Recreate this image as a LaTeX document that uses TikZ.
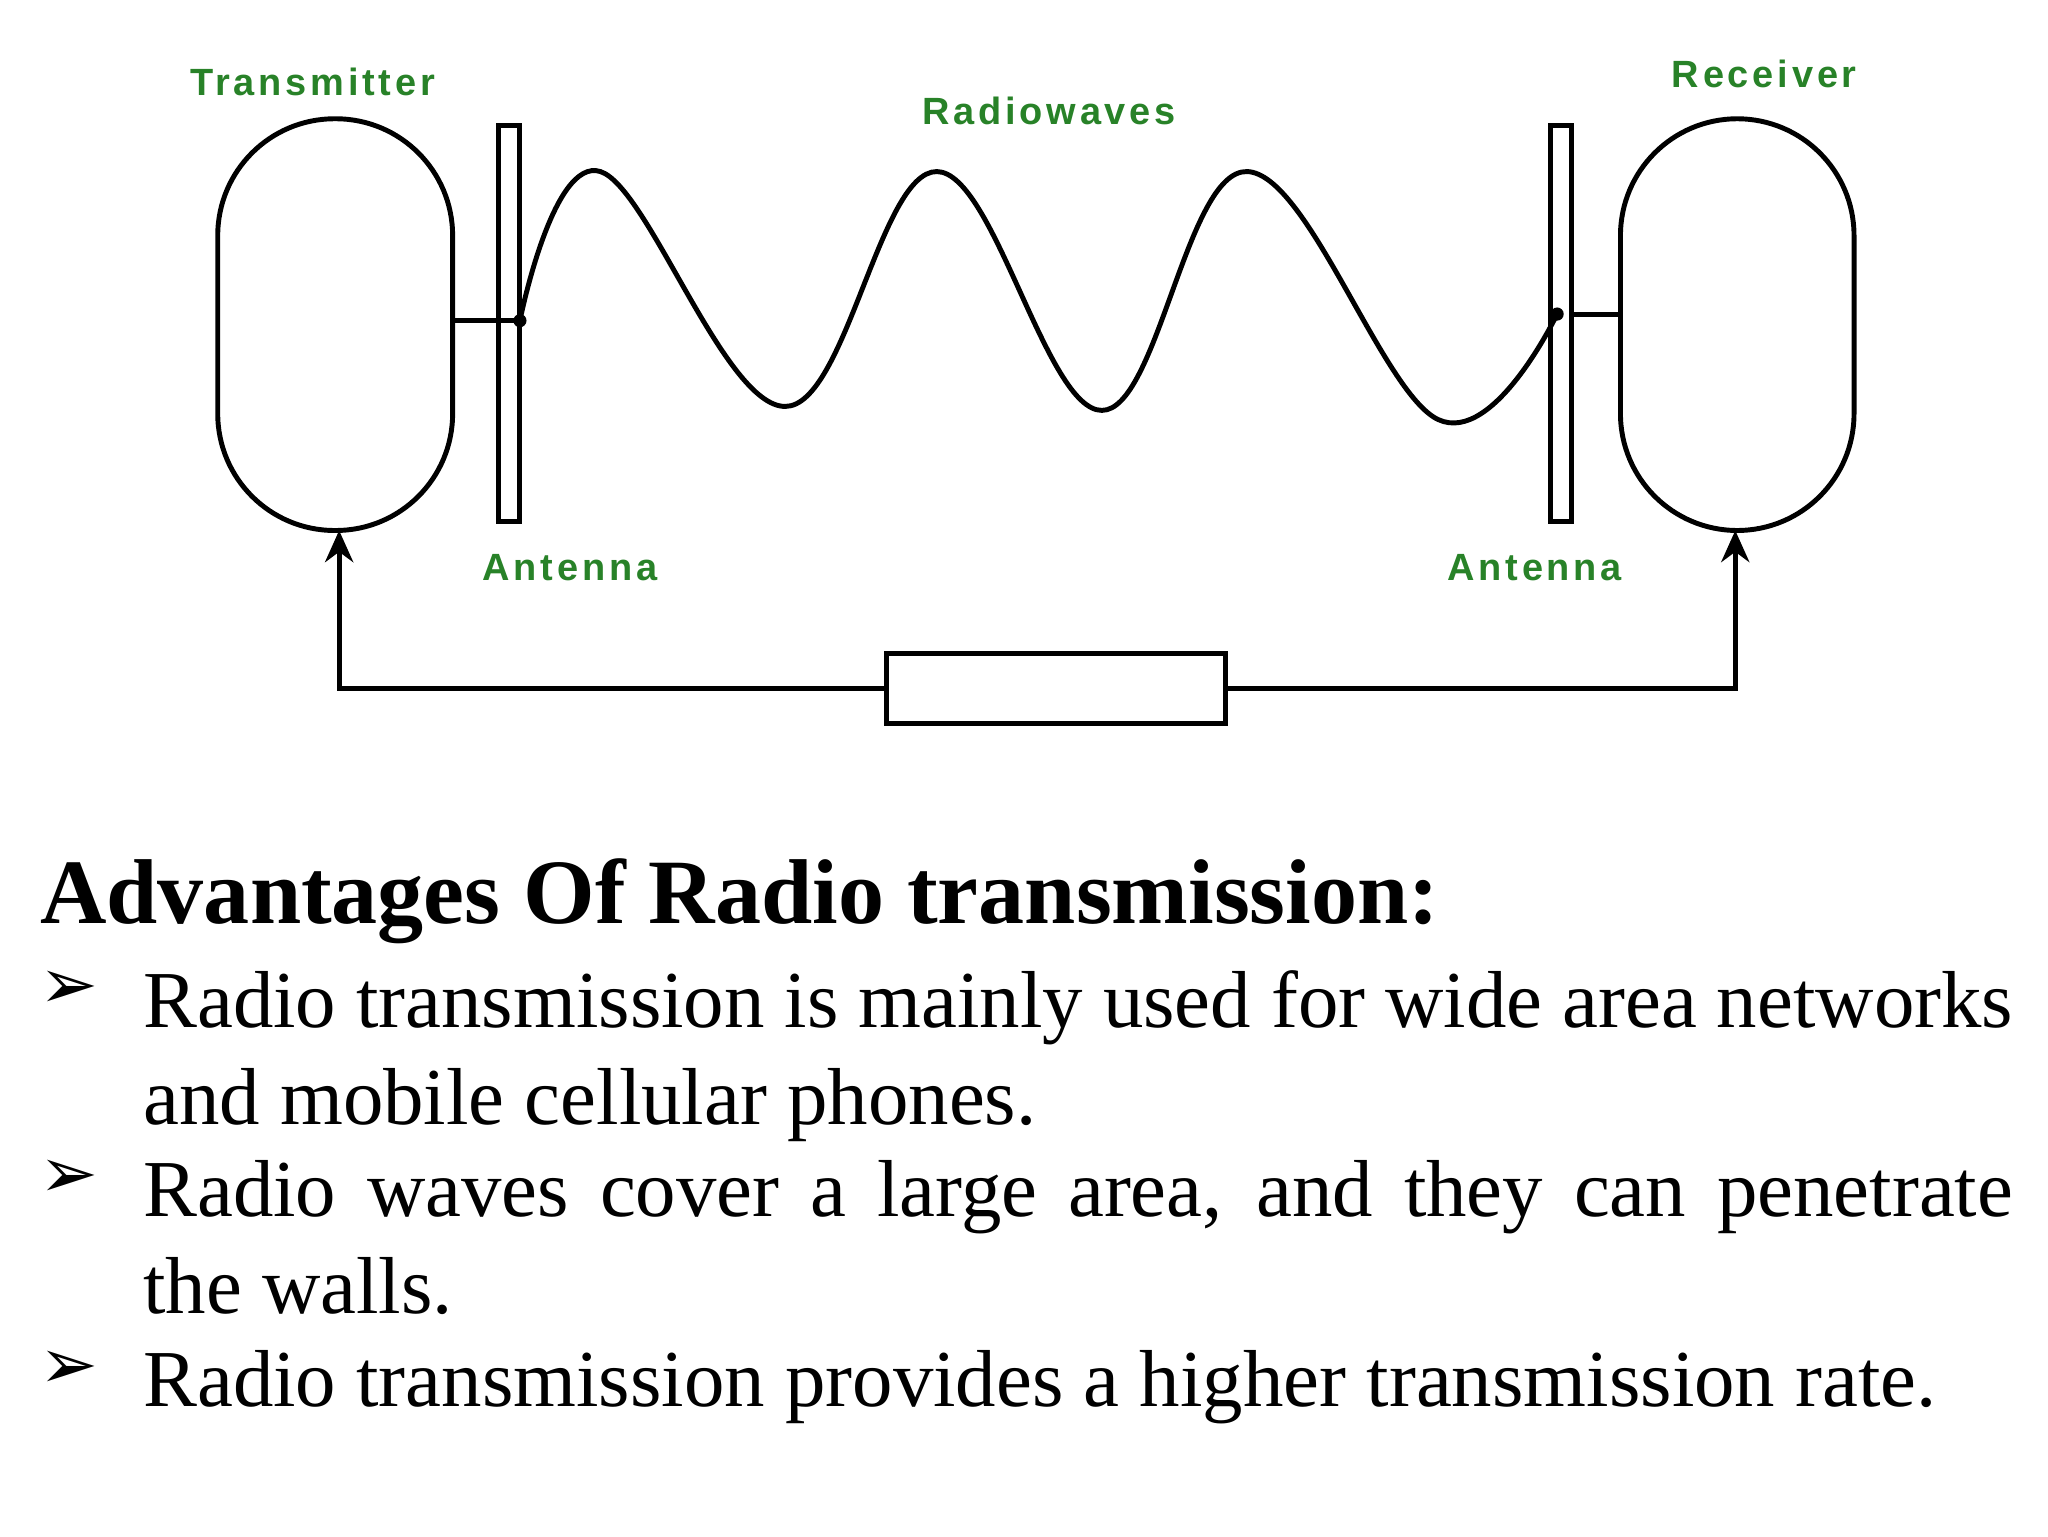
\documentclass[tikz,border=0pt]{standalone}
\usepackage{fontspec}
\setmainfont{Liberation Serif}
\newfontfamily\lbl[LetterSpace=10]{Liberation Sans}
\newfontfamily\dv{DejaVu Sans}
\usetikzlibrary{arrows.meta}
\definecolor{lgreen}{RGB}{40,130,40}
\begin{document}
\begin{tikzpicture}[x=0.0132cm,y=-0.0132cm,
  lab/.style={font=\lbl\bfseries\fontsize{10.8}{12}\selectfont,text=lgreen,inner sep=0},
  ln/.style={line width=1.4pt},
  capsule/.style={draw,line width=1.4pt,rounded corners=88.5*0.0132cm},
  ant/.style={draw,line width=1.4pt},
  body/.style={font=\fontsize{23}{27.6}\selectfont,inner sep=0,text width=1417*0.0132cm,align=justify,anchor=north west},
  bul/.style={font=\dv\fontsize{20}{22}\selectfont,inner sep=0}]
\useasboundingbox (0,0) rectangle (1552,1164);
% capsules
\draw[capsule] (165,90) rectangle (343,402);
\draw[capsule] (1228,90) rectangle (1405,402);
\coordinate (tx) at (343,243);
\coordinate (rx) at (1228,238);
% antennas
\draw[ant] (378,95) rectangle (394,395);
\draw[ant] (1175,95) rectangle (1191,395);
\coordinate (a1) at (394,243);
\coordinate (a2) at (1180,238);
\draw[ln] (tx) -- (a1);
\draw[ln] (1191,238) -- (rx);
\fill (a1) circle (5);
\fill (a2) circle (5);
% wave
\draw[ln] plot[smooth,tension=0.65] coordinates {(394,243) (455,130) (595,308) (710,130) (835,311) (945,130) (1090,318) (1180,238)};
% labels
\node[lab] at (237,62) {Transmitter};
\node[lab] at (1337,56) {Receiver};
\node[lab] at (795,84) {Radiowaves};
\node[lab] at (432,430) {Antenna};
\node[lab] at (1163,430) {Antenna};
% bottom link
\node[draw,line width=1.4pt,minimum width=257*0.0132cm,minimum height=53*0.0132cm,inner sep=0] (box) at (800.5,521.5) {};
\coordinate (b1) at (257,402);
\coordinate (b2) at (1315,402);
\draw[ln,-{Stealth[length=9pt,width=8pt]}] (box.west) -- (257,521.5) -- (b1);
\draw[ln,-{Stealth[length=9pt,width=8pt]}] (box.east) -- (1315,521.5) -- (b2);
% text
\node[anchor=base west,inner sep=0,font=\bfseries\fontsize{26.2}{30}\selectfont] (h) at (30,700) {Advantages Of Radio transmission:};
\node[bul] (k1) at (52,750) {➢};
\node[bul] (k2) at (52,893) {➢};
\node[bul] (k3) at (52,1038) {➢};
\node[body] (t1) at (108,735) {Radio transmission is mainly used for wide area networks and mobile cellular phones.};
\node[body] (t2) at (108,879) {Radio waves cover a large area, and they can penetrate\linebreak the walls.};
\node[body] (t3) at (108,1023) {Radio transmission provides a higher transmission rate.};
\end{tikzpicture}
\end{document}
